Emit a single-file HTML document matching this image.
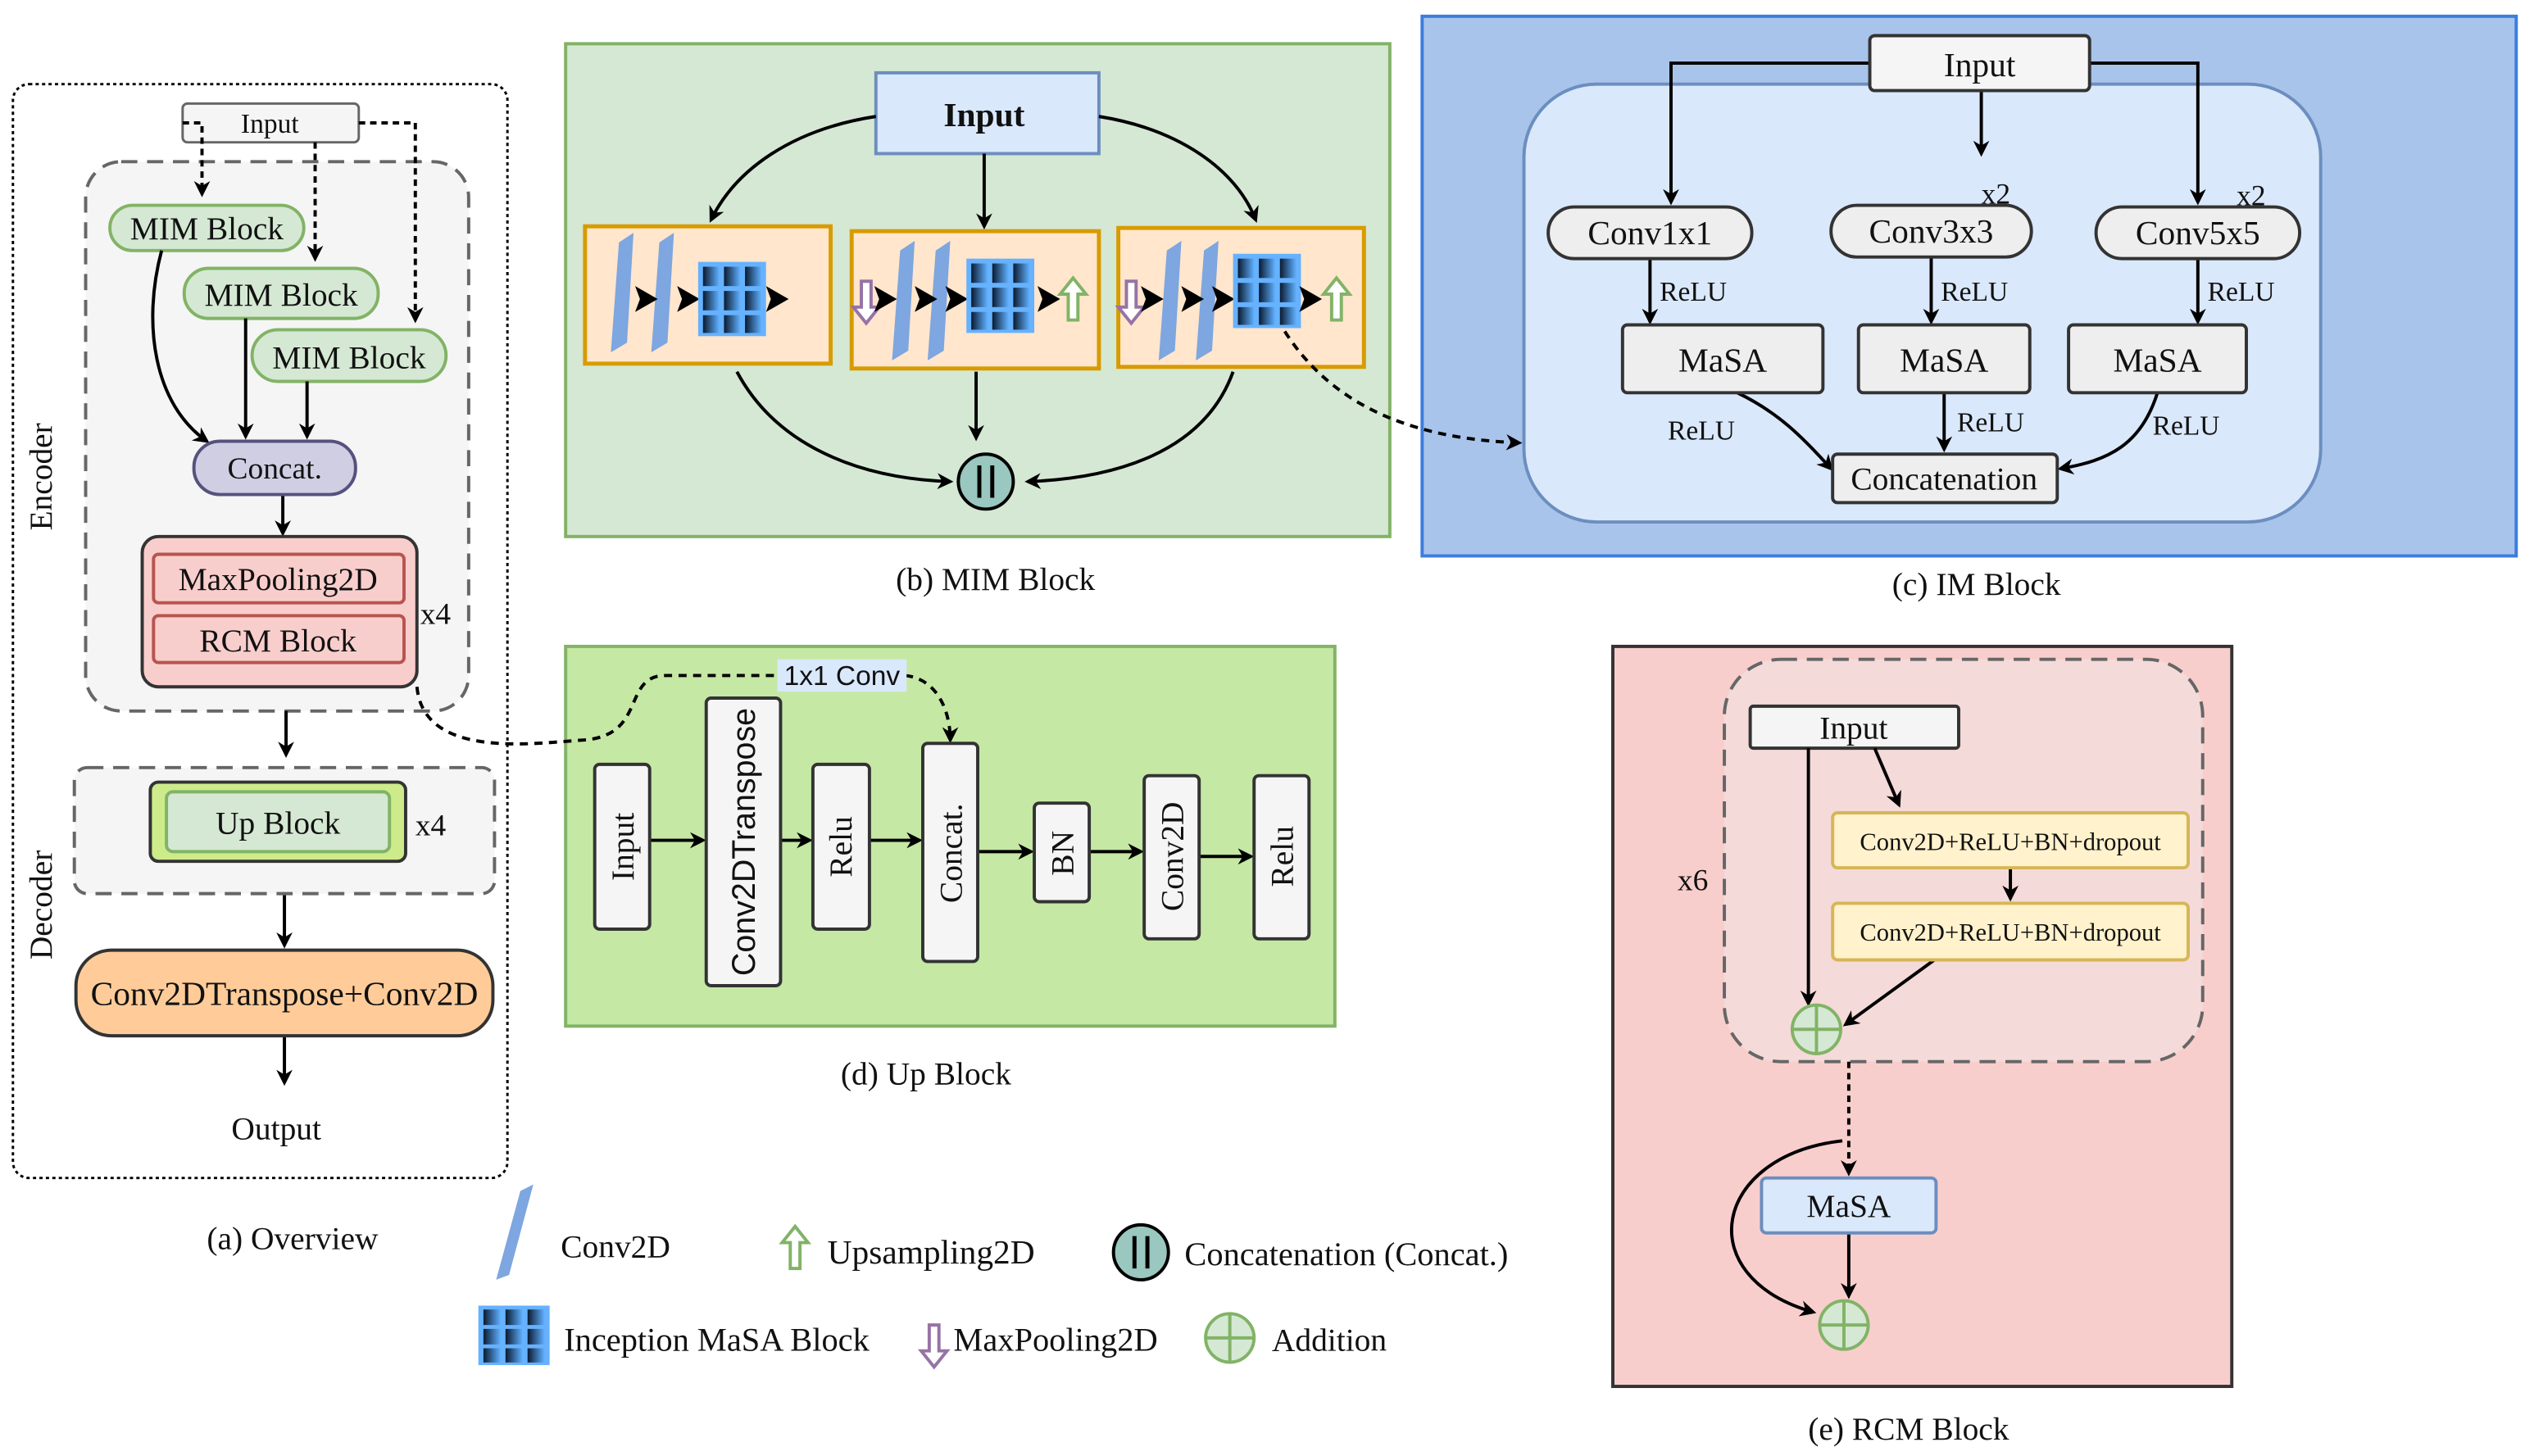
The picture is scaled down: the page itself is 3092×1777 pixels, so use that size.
<!DOCTYPE html>
<html><head><meta charset="utf-8"><style>
html,body{margin:0;padding:0;background:#fff}
svg{display:block}
text{font-family:"Liberation Serif",serif;fill:#111}
</style></head><body>
<svg width="3092" height="1777" viewBox="0 0 1568 901" xmlns="http://www.w3.org/2000/svg">
<defs>
<marker id="ah" markerWidth="10" markerHeight="10" refX="8" refY="5" orient="auto" markerUnits="userSpaceOnUse" viewBox="0 0 10 10"><path d="M0,0 L10,5 L0,10 L3,5 z" fill="#000"/></marker>
<linearGradient id="gg" x1="0" x2="1"><stop offset="0" stop-color="#0a1a30"/><stop offset="1" stop-color="#5fb0ff"/></linearGradient>
<g id="grid"><rect x="0" y="0" width="42" height="46" fill="#66b2ff"/>
<rect x="3" y="3" width="10" height="12" fill="url(#gg)"/><rect x="16" y="3" width="10" height="12" fill="url(#gg)"/><rect x="29" y="3" width="10" height="12" fill="url(#gg)"/>
<rect x="3" y="18" width="10" height="12" fill="url(#gg)"/><rect x="16" y="18" width="10" height="12" fill="url(#gg)"/><rect x="29" y="18" width="10" height="12" fill="url(#gg)"/>
<rect x="3" y="33" width="10" height="11" fill="url(#gg)"/><rect x="16" y="33" width="10" height="11" fill="url(#gg)"/><rect x="29" y="33" width="10" height="11" fill="url(#gg)"/></g>
<path id="bar" d="M5,0 L14,-6 L10,62 L0,68 z" fill="#7ea6e0"/>
<g id="tri"><path d="M0,-8 L14,0 L0,8 L3,0 z" fill="#000"/></g>
<g id="up"><path d="M-3,12 L-3,-4 L-8,-4 L0,-14 L8,-4 L3,-4 L3,12 z" fill="#fff" stroke="#82b366" stroke-width="2"/></g>
<g id="dn"><path d="M-3,-12 L-3,4 L-8,4 L0,14 L8,4 L3,4 L3,-12 z" fill="#fff" stroke="#9673a6" stroke-width="2"/></g>
</defs>

<!-- (a) Overview -->
<rect x="8" y="52" width="306" height="677" rx="10" fill="#fff" stroke="#000" stroke-width="1.5" stroke-dasharray="2,2"/>
<rect x="53" y="100" width="237" height="340" rx="22" fill="#f5f5f5" stroke="#666" stroke-width="2" stroke-dasharray="10,6"/>
<rect x="113" y="64" width="109" height="24" rx="3" fill="#f5f5f5" stroke="#666" stroke-width="1.5"/>
<text x="167" y="82" font-size="17" text-anchor="middle" fill="#333">Input</text>
<g stroke="#000" stroke-width="2" fill="none" stroke-dasharray="4,3">
<path d="M113,76 H125 V120" marker-end="url(#ah)"/>
<path d="M195,88 V160" marker-end="url(#ah)"/>
<path d="M222,76 H257 V198" marker-end="url(#ah)"/>
</g>
<rect x="68" y="127" width="120" height="28" rx="14" fill="#d5e8d4" stroke="#82b366" stroke-width="2"/>
<text x="128" y="148" font-size="20" text-anchor="middle">MIM Block</text>
<rect x="114" y="166" width="120" height="31" rx="15" fill="#d5e8d4" stroke="#82b366" stroke-width="2"/>
<text x="174" y="189" font-size="20" text-anchor="middle">MIM Block</text>
<rect x="156" y="204" width="120" height="32" rx="16" fill="#d5e8d4" stroke="#82b366" stroke-width="2"/>
<text x="216" y="228" font-size="20" text-anchor="middle">MIM Block</text>
<g stroke="#000" stroke-width="2" fill="none">
<path d="M100,155 C88,200 95,250 128,273" marker-end="url(#ah)"/>
<path d="M152,197 V270" marker-end="url(#ah)"/>
<path d="M190,236 L190,270" marker-end="url(#ah)"/>
<path d="M175,306 V330" marker-end="url(#ah)"/>
<path d="M177,440 V467" marker-end="url(#ah)"/>
<path d="M176,553 V585" marker-end="url(#ah)"/>
<path d="M176,641 V670" marker-end="url(#ah)"/>
</g>
<rect x="120" y="273" width="100" height="33" rx="16" fill="#d0cee2" stroke="#56517e" stroke-width="2"/>
<text x="170" y="296" font-size="19" text-anchor="middle">Concat.</text>
<rect x="88" y="332" width="170" height="93" rx="10" fill="#f8cecc" stroke="#333" stroke-width="2"/>
<rect x="95" y="343" width="155" height="30" rx="3" fill="#f8cecc" stroke="#b85450" stroke-width="2"/>
<text x="172" y="365" font-size="20" text-anchor="middle">MaxPooling2D</text>
<rect x="95" y="381" width="155" height="29" rx="3" fill="#f8cecc" stroke="#b85450" stroke-width="2"/>
<text x="172" y="403" font-size="20" text-anchor="middle">RCM Block</text>
<text x="260" y="386" font-size="19">x4</text>
<text x="32" y="295" font-size="20" text-anchor="middle" transform="rotate(-90 32 295)">Encoder</text>
<rect x="46" y="475" width="260" height="78" rx="8" fill="#f5f5f5" stroke="#666" stroke-width="2" stroke-dasharray="10,6"/>
<rect x="93" y="484" width="158" height="49" rx="5" fill="#cdeb8b" stroke="#333" stroke-width="2"/>
<rect x="103" y="490" width="138" height="37" rx="4" fill="#d5e8d4" stroke="#82b366" stroke-width="2"/>
<text x="172" y="516" font-size="20" text-anchor="middle" fill="#333">Up Block</text>
<text x="257" y="517" font-size="19">x4</text>
<text x="32" y="560" font-size="20" text-anchor="middle" transform="rotate(-90 32 560)">Decoder</text>
<rect x="47" y="588" width="258" height="53" rx="22" fill="#ffcc99" stroke="#333" stroke-width="2"/>
<text x="176" y="622" font-size="21" text-anchor="middle">Conv2DTranspose+Conv2D</text>
<text x="171" y="705" font-size="20" text-anchor="middle">Output</text>
<text x="181" y="773" font-size="20" text-anchor="middle">(a) Overview</text>

<!-- (b) MIM -->
<rect x="350" y="27" width="510" height="305" fill="#d5e8d4" stroke="#82b366" stroke-width="2"/>
<rect x="542" y="45" width="138" height="50" fill="#dae8fc" stroke="#6c8ebf" stroke-width="2"/>
<text x="609" y="78" font-size="21" font-weight="bold" text-anchor="middle">Input</text>
<g stroke="#000" stroke-width="2" fill="none">
<path d="M542,72 C490,80 455,105 440,136" marker-end="url(#ah)"/>
<path d="M609,95 V140" marker-end="url(#ah)"/>
<path d="M680,72 C730,80 765,105 777,136" marker-end="url(#ah)"/>
<path d="M456,230 C480,275 530,296 588,298" marker-end="url(#ah)"/>
<path d="M604,230 V271" marker-end="url(#ah)"/>
<path d="M763,230 C745,280 690,296 636,298" marker-end="url(#ah)"/>
</g>
<rect x="362" y="140" width="152" height="85" fill="#ffe6cc" stroke="#d79b00" stroke-width="2.5"/>
<rect x="527" y="143" width="153" height="85" fill="#ffe6cc" stroke="#d79b00" stroke-width="2.5"/>
<rect x="692" y="141" width="152" height="86" fill="#ffe6cc" stroke="#d79b00" stroke-width="2.5"/>
<use href="#bar" x="378" y="150"/><use href="#bar" x="403" y="150"/>
<use href="#tri" x="393" y="185"/><use href="#tri" x="419" y="185"/>
<use href="#grid" x="432" y="162"/><use href="#tri" x="474" y="185"/>
<use href="#dn" x="536" y="186"/>
<use href="#bar" x="552" y="155"/><use href="#bar" x="574" y="155"/>
<use href="#tri" x="541" y="185"/><use href="#tri" x="566" y="185"/><use href="#tri" x="585" y="185"/>
<use href="#grid" x="598" y="160"/><use href="#tri" x="642" y="185"/>
<use href="#up" x="664" y="186"/>
<use href="#dn" x="700" y="186"/>
<use href="#bar" x="717" y="155"/><use href="#bar" x="740" y="155"/>
<use href="#tri" x="706" y="185"/><use href="#tri" x="731" y="185"/><use href="#tri" x="750" y="185"/>
<use href="#grid" x="763" y="157"/><use href="#tri" x="804" y="185"/>
<use href="#up" x="827" y="186"/>
<circle cx="610" cy="298" r="17" fill="#9ac7bf" stroke="#000" stroke-width="2"/>
<path d="M606,288 V308 M614,288 V308" stroke="#000" stroke-width="2.5"/>
<text x="616" y="365" font-size="20" text-anchor="middle">(b) MIM Block</text>

<!-- (c) IM -->
<rect x="880" y="10" width="677" height="334" fill="#a9c4eb" stroke="#3c7ddd" stroke-width="2"/>
<rect x="943" y="52" width="493" height="271" rx="45" fill="#dae8fc" stroke="#6c8ebf" stroke-width="2"/>
<path d="M795,205 C830,260 890,272 940,274" fill="none" stroke="#000" stroke-width="2" stroke-dasharray="5,4" marker-end="url(#ah)"/>
<g stroke="#000" stroke-width="2" fill="none">
<path d="M1157,39 H1034 V125" marker-end="url(#ah)"/>
<path d="M1226,56 V95" marker-end="url(#ah)"/>
<path d="M1293,39 H1360 V125" marker-end="url(#ah)"/>
<path d="M1021,160 V199" marker-end="url(#ah)"/>
<path d="M1195,159 V199" marker-end="url(#ah)"/>
<path d="M1360,160 V199" marker-end="url(#ah)"/>
<path d="M1075,243 C1100,255 1115,270 1133,290" marker-end="url(#ah)"/>
<path d="M1203,243 V278" marker-end="url(#ah)"/>
<path d="M1335,243 C1325,275 1305,285 1275,290" marker-end="url(#ah)"/>
</g>
<rect x="1157" y="22" width="136" height="34" rx="3" fill="#f5f5f5" stroke="#333" stroke-width="2"/>
<text x="1225" y="47" font-size="21" text-anchor="middle">Input</text>
<rect x="958" y="128" width="126" height="32" rx="16" fill="#eee" stroke="#333" stroke-width="2"/>
<text x="1021" y="151" font-size="21" text-anchor="middle">Conv1x1</text>
<rect x="1133" y="127" width="124" height="32" rx="16" fill="#eee" stroke="#333" stroke-width="2"/>
<text x="1195" y="150" font-size="21" text-anchor="middle">Conv3x3</text>
<rect x="1297" y="128" width="126" height="32" rx="16" fill="#eee" stroke="#333" stroke-width="2"/>
<text x="1360" y="151" font-size="21" text-anchor="middle">Conv5x5</text>
<text x="1226" y="126" font-size="18">x2</text>
<text x="1384" y="127" font-size="18">x2</text>
<text x="1027" y="186" font-size="17">ReLU</text>
<text x="1201" y="186" font-size="17">ReLU</text>
<text x="1366" y="186" font-size="17">ReLU</text>
<rect x="1004" y="201" width="124" height="42" rx="3" fill="#eee" stroke="#333" stroke-width="2"/>
<text x="1066" y="230" font-size="21" text-anchor="middle">MaSA</text>
<rect x="1150" y="201" width="106" height="42" rx="3" fill="#eee" stroke="#333" stroke-width="2"/>
<text x="1203" y="230" font-size="21" text-anchor="middle">MaSA</text>
<rect x="1280" y="201" width="110" height="42" rx="3" fill="#eee" stroke="#333" stroke-width="2"/>
<text x="1335" y="230" font-size="21" text-anchor="middle">MaSA</text>
<text x="1032" y="272" font-size="17">ReLU</text>
<text x="1211" y="267" font-size="17">ReLU</text>
<text x="1332" y="269" font-size="17">ReLU</text>
<rect x="1134" y="281" width="139" height="30" rx="3" fill="#eee" stroke="#333" stroke-width="2"/>
<text x="1203" y="303" font-size="20" text-anchor="middle">Concatenation</text>
<text x="1223" y="368" font-size="20" text-anchor="middle">(c) IM Block</text>

<!-- (d) Up Block -->
<rect x="350" y="400" width="476" height="235" fill="#c5e8a5" stroke="#82b366" stroke-width="2"/>
<!-- dashed RCM -> up block (drawn above rect) -->
<path d="M258,425 C262,470 330,460 360,458 C400,456 385,420 410,418 L480,418" fill="none" stroke="#000" stroke-width="2" stroke-dasharray="5,4"/>
<path d="M560,418 C580,420 588,440 588,458" fill="none" stroke="#000" stroke-width="2" stroke-dasharray="5,4" marker-end="url(#ah)"/>
<rect x="481" y="408" width="80" height="20" fill="#dae8fc"/>
<text x="521" y="424" font-size="17" text-anchor="middle" style="font-family:'Liberation Sans',sans-serif">1x1 Conv</text>
<g stroke="#000" stroke-width="2" fill="none">
<path d="M402,520 H435" marker-end="url(#ah)"/>
<path d="M483,520 H501" marker-end="url(#ah)"/>
<path d="M538,520 H569" marker-end="url(#ah)"/>
<path d="M605,527 H638" marker-end="url(#ah)"/>
<path d="M674,527 H706" marker-end="url(#ah)"/>
<path d="M742,530 H774" marker-end="url(#ah)"/>
</g>
<g fill="#f5f5f5" stroke="#333" stroke-width="2">
<rect x="368" y="473" width="34" height="102" rx="3"/>
<rect x="437" y="432" width="46" height="178" rx="3"/>
<rect x="503" y="473" width="35" height="102" rx="3"/>
<rect x="571" y="460" width="34" height="135" rx="3"/>
<rect x="640" y="497" width="34" height="61" rx="3"/>
<rect x="708" y="480" width="34" height="101" rx="3"/>
<rect x="776" y="480" width="34" height="101" rx="3"/>
</g>
<g font-size="20" text-anchor="middle">
<text x="392" y="524" transform="rotate(-90 392 524)">Input</text>
<text x="467" y="521" transform="rotate(-90 467 521)" style="font-family:'Liberation Sans',sans-serif">Conv2DTranspose</text>
<text x="527" y="524" transform="rotate(-90 527 524)">Relu</text>
<text x="595" y="528" transform="rotate(-90 595 528)">Concat.</text>
<text x="664" y="528" transform="rotate(-90 664 528)">BN</text>
<text x="732" y="530" transform="rotate(-90 732 530)">Conv2D</text>
<text x="800" y="530" transform="rotate(-90 800 530)">Relu</text>
</g>
<text x="573" y="671" font-size="20" text-anchor="middle">(d) Up Block</text>

<!-- (e) RCM -->
<rect x="998" y="400" width="383" height="458" fill="#f8cecc" stroke="#333" stroke-width="2"/>
<rect x="1067" y="408" width="296" height="249" rx="35" fill="#f5dada" stroke="#666" stroke-width="2" stroke-dasharray="10,6"/>
<rect x="1083" y="437" width="129" height="26" rx="2" fill="#f5f5f5" stroke="#333" stroke-width="2"/>
<text x="1147" y="457" font-size="20" text-anchor="middle">Input</text>
<g stroke="#000" stroke-width="2" fill="none">
<path d="M1160,463 L1175,498" marker-end="url(#ah)"/>
<path d="M1119,463 V621" marker-end="url(#ah)"/>
<path d="M1244,537 V556" marker-end="url(#ah)"/>
<path d="M1197,594 L1142,634" marker-end="url(#ah)"/>
<path d="M1144,763 V802" marker-end="url(#ah)"/>
<path d="M1140,706 C1060,715 1045,790 1122,812" marker-end="url(#ah)"/>
</g>
<path d="M1144,657 V726" stroke="#000" stroke-width="2" stroke-dasharray="4,3" fill="none" marker-end="url(#ah)"/>
<rect x="1134" y="503" width="220" height="34" rx="3" fill="#fff2cc" stroke="#d6b656" stroke-width="2"/>
<text x="1244" y="526" font-size="15.5" text-anchor="middle">Conv2D+ReLU+BN+dropout</text>
<rect x="1134" y="559" width="220" height="35" rx="3" fill="#fff2cc" stroke="#d6b656" stroke-width="2"/>
<text x="1244" y="582" font-size="15.5" text-anchor="middle">Conv2D+ReLU+BN+dropout</text>
<text x="1038" y="551" font-size="19">x6</text>
<circle cx="1124" cy="637" r="15" fill="#d5e8d4" stroke="#82b366" stroke-width="2"/>
<path d="M1109,637 H1139 M1124,622 V652" stroke="#82b366" stroke-width="2"/>
<rect x="1090" y="729" width="108" height="34" rx="3" fill="#dae8fc" stroke="#6c8ebf" stroke-width="2"/>
<text x="1144" y="753" font-size="20" text-anchor="middle">MaSA</text>
<circle cx="1141" cy="820" r="15" fill="#d5e8d4" stroke="#82b366" stroke-width="2"/>
<path d="M1126,820 H1156 M1141,805 V835" stroke="#82b366" stroke-width="2"/>
<text x="1181" y="891" font-size="20" text-anchor="middle">(e) RCM Block</text>

<!-- Legend -->
<path d="M322,737 L330,733 L315,789 L307,792 z" fill="#7ea6e0"/>
<text x="347" y="778" font-size="20">Conv2D</text>
<use href="#up" x="492" y="773"/>
<text x="512" y="782" font-size="21">Upsampling2D</text>
<circle cx="706" cy="775" r="17" fill="#9ac7bf" stroke="#000" stroke-width="2"/>
<path d="M702,765 V785 M710,765 V785" stroke="#000" stroke-width="2.5"/>
<text x="733" y="783" font-size="20.5">Concatenation (Concat.)</text>
<g transform="translate(296,808) scale(1.05,0.8)"><use href="#grid"/></g>
<text x="349" y="836" font-size="20.5">Inception MaSA Block</text>
<use href="#dn" x="578" y="832"/>
<text x="590" y="836" font-size="20.5">MaxPooling2D</text>
<circle cx="761" cy="828" r="15" fill="#d5e8d4" stroke="#82b366" stroke-width="2"/>
<path d="M746,828 H776 M761,813 V843" stroke="#82b366" stroke-width="2"/>
<text x="787" y="836" font-size="20">Addition</text>
</svg>
</body></html>
